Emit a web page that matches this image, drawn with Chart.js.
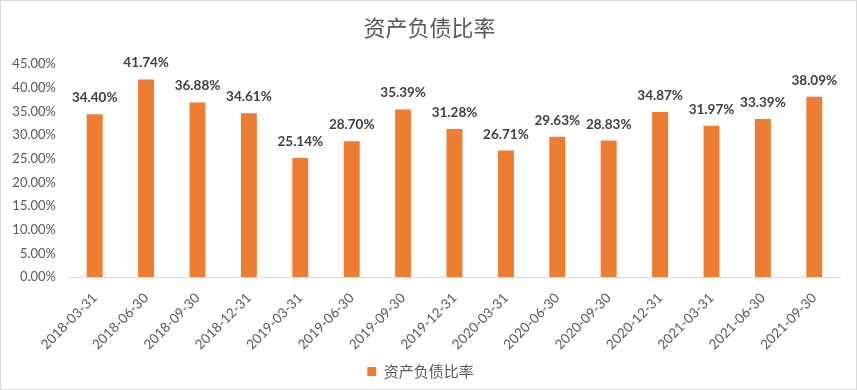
<!DOCTYPE html>
<html><head><meta charset="utf-8">
<script src="https://cdn.jsdelivr.net/npm/chart.js@4/dist/chart.umd.min.js"></script>
<style>
html,body{margin:0;padding:0;background:#fff;}
#wrap{position:relative;width:855px;height:388px;border:1px solid #d9d9d9;}
</style></head>
<body><div id="wrap"><canvas id="c" width="855" height="388"></canvas></div>
<script>
const categories = ["2018-03-31","2018-06-30","2018-09-30","2018-12-31","2019-03-31","2019-06-30","2019-09-30","2019-12-31","2020-03-31","2020-06-30","2020-09-30","2020-12-31","2021-03-31","2021-06-30","2021-09-30"];
const seriesName = "资产负债比率";
const ratioValues = [34.40,41.74,36.88,34.61,25.14,28.70,35.39,31.28,26.71,29.63,28.83,34.87,31.97,33.39,38.09];

const FONT = "Lato, 'Noto Sans CJK SC', sans-serif";
const CJK = "'Noto Sans CJK SC', sans-serif";
const labelPlugin = {
  id:'labels',
  afterDatasetsDraw(chart){
    const ctx = chart.ctx;
    const meta = chart.getDatasetMeta(0);
    ctx.save();
    ctx.font = "bold 13.5px " + FONT;
    ctx.fillStyle = "#404040";
    ctx.textAlign = "center";
    ctx.textBaseline = "alphabetic";
    meta.data.forEach((bar,i)=>{
      ctx.fillText(ratioValues[i].toFixed(2)+"%", bar.x, bar.y - 12);
    });
    // chart title, centred on the canvas
    ctx.font = "22px " + CJK;
    ctx.fillStyle = "#595959";
    ctx.textBaseline = "middle";
    ctx.fillText(seriesName, chart.width/2 + 1, 27);
    ctx.restore();
  }
};
new Chart(document.getElementById('c'),{
  type:'bar',
  data:{labels:categories,datasets:[{label:seriesName,data:ratioValues,backgroundColor:'#ED7D31',barPercentage:0.31,categoryPercentage:1}]},
  options:{
    responsive:false,animation:false,
    layout:{padding:{left:0,right:16,top:63,bottom:0}},
    plugins:{
      title:{display:false},
      legend:{position:'bottom',labels:{color:'#595959',font:{family:CJK,size:15},boxWidth:9,boxHeight:9,padding:10}},
      tooltip:{enabled:false}
    },
    scales:{
      y:{min:0,max:45,afterFit(s){s.width=68;},ticks:{stepSize:5,color:'#595959',font:{family:FONT,size:13},callback:v=>v.toFixed(2)+"%",padding:5},grid:{display:false},border:{display:false}},
      x:{afterFit(s){s.height=77;},ticks:{color:'#595959',font:{family:FONT,size:13.5},maxRotation:45,minRotation:45,autoSkip:false,padding:5},grid:{display:false},border:{color:'#d9d9d9'}}
    }
  },
  plugins:[labelPlugin]
});
</script></body></html>
